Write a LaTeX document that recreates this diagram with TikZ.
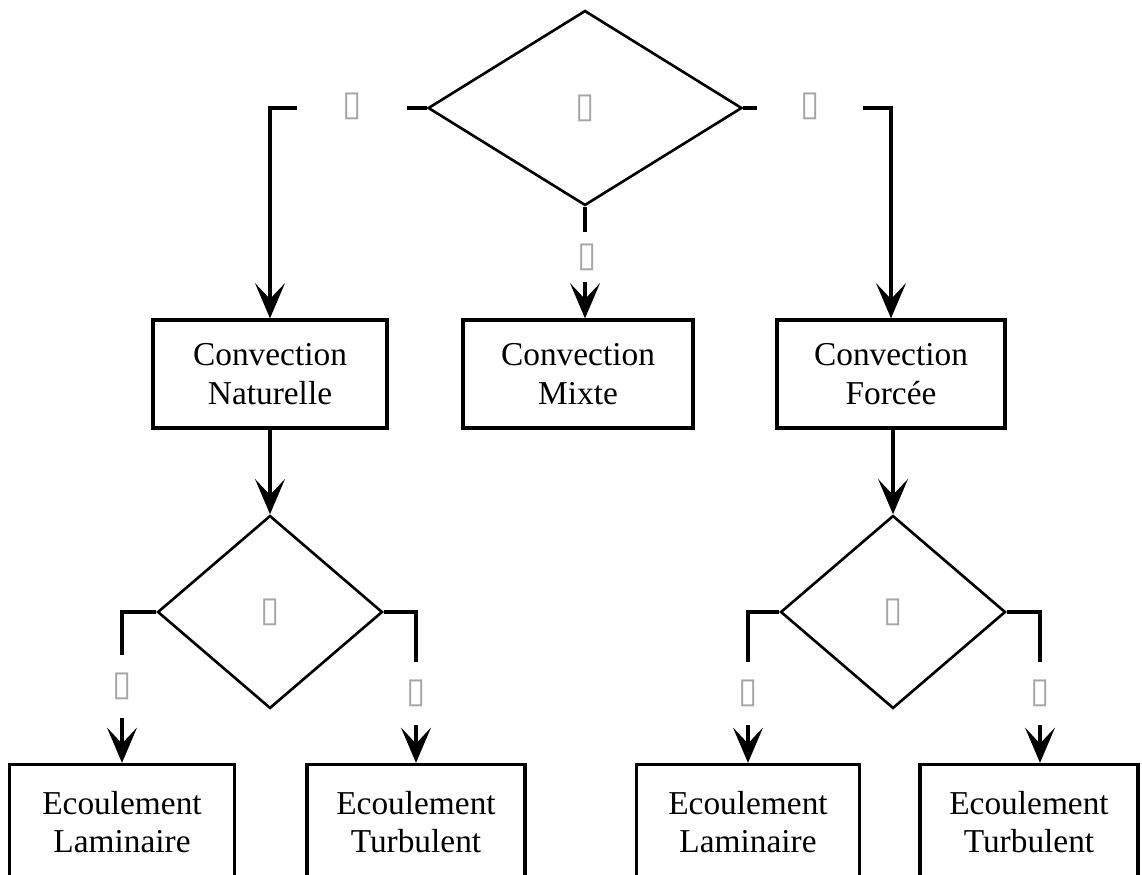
\documentclass[tikz,border=0pt]{standalone}
\usepackage{fontspec}
\setmainfont{Liberation Serif}
\newfontfamily\symfont{DejaVu Sans}
\usetikzlibrary{arrows.meta,shapes.geometric}
\begin{document}
\begin{tikzpicture}[x=0.02cm, y=-0.02cm,
  box/.style={draw, line width=1.9pt, align=center, inner sep=0pt,
    font=\fontsize{19}{22}\selectfont},
  choice/.style={draw, diamond, line width=1.5pt, inner sep=0pt,
    text=gray!70, font=\symfont\fontsize{20}{20}\selectfont},
  tofu/.style={fill=white, text=gray!70, inner sep=0pt,
    font=\symfont\fontsize{20}{20}\selectfont},
  link/.style={line width=2pt},
  flow/.style={link, -{Stealth[length=20pt, width=17pt, inset=9pt]}}]
  \useasboundingbox (0,0) rectangle (1142,875);

  % first choice and the three kinds of convection
  \node[choice, minimum width=6.28cm, minimum height=3.9cm] (top) at (585,108) {▯};
  \node[box, minimum width=4.68cm, minimum height=2.16cm] (nat) at (270,374) {Convection\\Naturelle};
  \node[box, minimum width=4.6cm, minimum height=2.16cm] (mix) at (578,374) {Convection\\Mixte};
  \node[box, minimum width=4.56cm, minimum height=2.16cm] (for) at (891,374) {Convection\\Forcée};

  \coordinate (topL) at (270,108);
  \coordinate (topR) at (891,108);
  \draw[flow] (top.west) -- (topL) -- (nat.north);
  \draw[flow] (top.east) -- (topR) -- (for.north);
  \draw[flow] (top.south) -- (top.south |- mix.north);
  \node[tofu, minimum width=2.22cm, minimum height=0.6cm] (lblL) at (352,106) {▯};
  \node[tofu, minimum width=2.12cm, minimum height=0.6cm] (lblR) at (810,106) {▯};
  \node[tofu, minimum width=0.6cm, minimum height=1.0cm] (lblM) at (587,257) {▯};

  % second choices
  \node[choice, minimum width=4.5cm, minimum height=3.86cm] (natC) at (270,612) {▯};
  \node[choice, minimum width=4.5cm, minimum height=3.86cm] (forC) at (893,612) {▯};
  \draw[flow] (nat.south) -- (natC.north);
  \draw[flow] (for.south -| forC.north) -- (forC.north);

  % flow regimes
  \node[box, minimum width=4.5cm, minimum height=2.3cm] (natLam) at (122,822) {Ecoulement\\Laminaire};
  \node[box, minimum width=4.36cm, minimum height=2.3cm] (natTur) at (416,822) {Ecoulement\\Turbulent};
  \node[box, minimum width=4.46cm, minimum height=2.3cm] (forLam) at (748,822) {Ecoulement\\Laminaire};
  \node[box, minimum width=4.36cm, minimum height=2.3cm] (forTur) at (1029,822) {Ecoulement\\Turbulent};

  \coordinate (natL) at (122,612);
  \coordinate (natR) at (416,612);
  \coordinate (forL) at (748,612);
  \coordinate (forR) at (1040,612);
  \draw[flow] (natC.west) -- (natL) -- (natLam.north);
  \draw[flow] (natC.east) -- (natR) -- (natTur.north);
  \draw[flow] (forC.west) -- (forL) -- (forLam.north);
  \draw[flow] (forC.east) -- (forR) -- (forR |- forTur.north);
  \node[tofu, minimum width=0.6cm, minimum height=1.26cm] (lblNL) at (122,686) {▯};
  \node[tofu, minimum width=0.6cm, minimum height=1.26cm] (lblNR) at (416,693) {▯};
  \node[tofu, minimum width=0.6cm, minimum height=1.26cm] (lblFL) at (748,693) {▯};
  \node[tofu, minimum width=0.6cm, minimum height=1.26cm] (lblFR) at (1040,693) {▯};
\end{tikzpicture}
\end{document}
